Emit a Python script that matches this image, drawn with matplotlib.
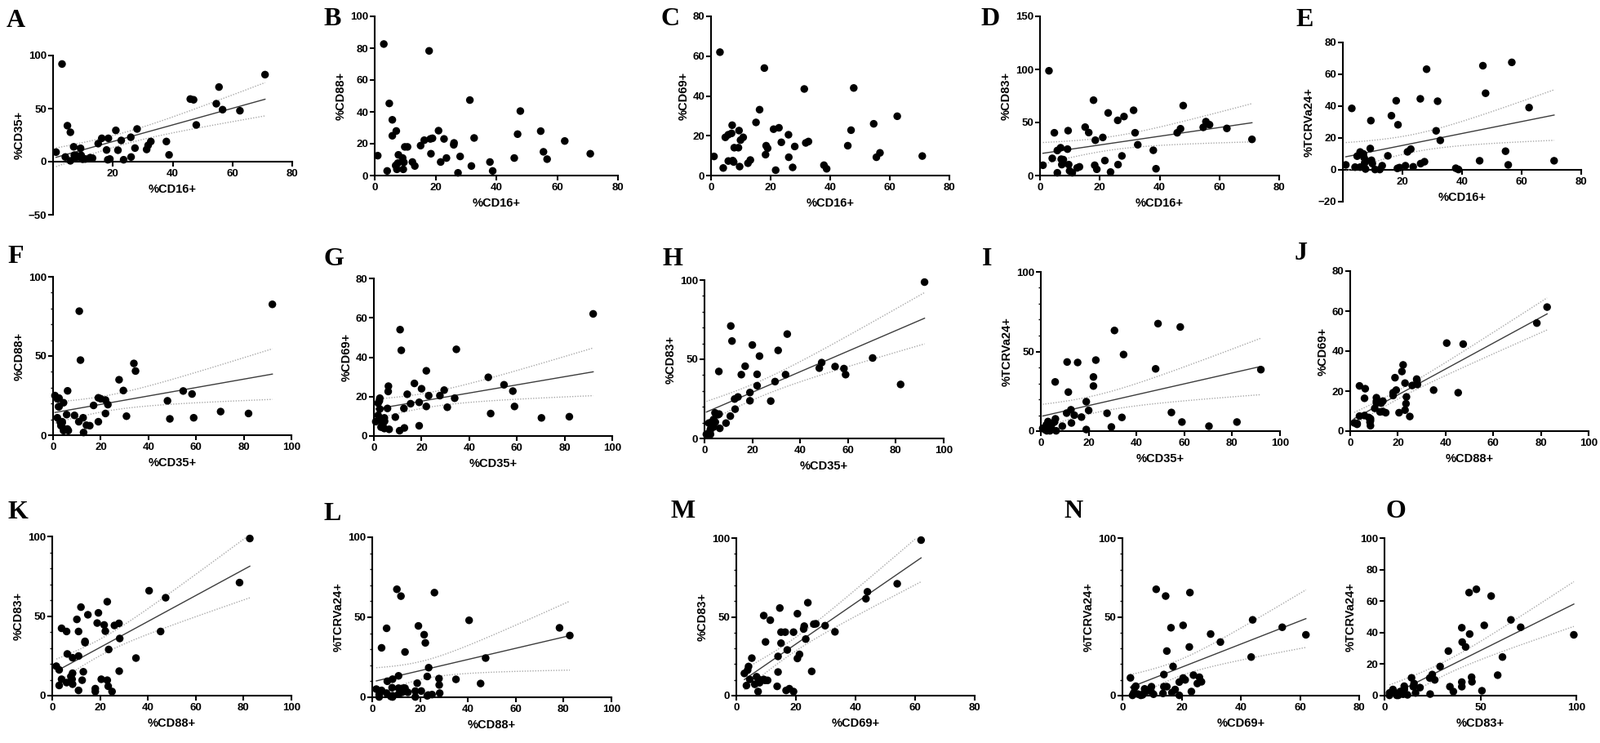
"""Correlation scatter panels (A-O) between surface marker percentages."""
import matplotlib
matplotlib.use("Agg")
import matplotlib.pyplot as plt
from matplotlib.ticker import MultipleLocator, FixedLocator
import numpy as np

# one value per sample (45 samples)
cd16 = [1.0, 3.0, 4.1, 4.8, 5.8, 5.8, 6.9, 7.1, 7.3, 7.6, 7.8, 9.2, 9.4, 9.6, 9.9, 10.8, 12.4, 13.2,
        15.1, 16.3, 17.9, 18.3, 18.5, 19.0, 21.0, 21.7, 22.8, 23.6, 26.0, 26.1, 27.4, 28.1, 31.3,
        31.8, 32.7, 37.9, 38.8, 45.9, 47.0, 47.9, 54.6, 55.5, 56.7, 62.5, 70.9]
cd35 = [9, 92, 4.4, 33.9, 27.7, 0.8, 14, 6.1, 4.5, 3.8, 5.7, 12.6, 6, 3, 2.3, 2.5, 3.8, 3.3,
        17, 22, 11, 1.8, 22, 2.5, 29.5, 10.8, 20, 1.8, 23, 4.4, 12.8, 30.8, 11.5,
        15.4, 19, 19, 6.4, 59, 58.3, 34.6, 54.6, 70.3, 49, 48, 82]
cd88 = [12.5, 82.6, 2.9, 45.3, 35, 25, 6.3, 28, 3.9, 7.8, 13, 11, 3.9, 8.3, 18, 18, 8.5, 6,
        18.8, 22.2, 78.3, 23, 13.7, 23.4, 28.2, 8.5, 23, 11, 19.3, 20.5, 1.7, 12, 47.4,
        6, 23.6, 8.5, 2.9, 11, 26, 40.5, 27.9, 14.9, 10.3, 21.7, 13.7]
cd69 = [9.6, 62, 3.8, 19.2, 20.5, 7.3, 21.2, 25.3, 7.5, 6.8, 14, 14, 22.6, 4.5, 17.8, 19.2, 6.2, 7.8,
        26.7, 33.1, 54, 10.5, 15, 13.7, 23.3, 2.7, 24, 16.7, 20.5, 9.2, 4.1, 14.6, 43.5,
        16.4, 17.1, 5.2, 3.4, 15, 22.8, 44, 26, 9.2, 11.4, 29.8, 9.8]
cd83 = [9.7, 98.7, 16.2, 40.3, 23.6, 2.6, 26.2, 15.4, 10.3, 12, 15, 24.9, 42.3, 10.3, 4.4, 2.6, 7.2, 8.2,
        45.6, 40.5, 71, 9.7, 33.3, 5.9, 35.9, 14.1, 59, 3.3, 52, 10.3, 18.5, 55.6, 61.5,
        40.3, 29, 23.8, 6.4, 40.3, 44.1, 65.9, 45.4, 50.8, 47.9, 44.4, 34.1]
tcr = [3.1, 38.6, 1.7, 8.6, 11.2, 1.7, 10, 7.7, 4.3, 0.5, 5.7, 13.4, 30.9, 6, 3.9, 0.2, 0.2, 2.6,
       8.8, 34, 43.4, 0.9, 28.3, 1.4, 2.6, 11.3, 13, 1.9, 44.6, 3.9, 5.1, 63.2, 24.5,
       43.1, 18.5, 1, 0.2, 5.7, 65.4, 48.1, 11.7, 3.1, 67.5, 39.1, 5.7]

data = {"%CD16+": cd16, "%CD35+": cd35, "%CD88+": cd88,
        "%CD69+": cd69, "%CD83+": cd83, "%TCRVa24+": tcr}

# letter, x var, y var, x max, x step, y min, y max, y step, y minor, fit, box (l, r, t, b) px, letter pos px
panels = [
    ("A", "%CD16+", "%CD35+", 80, 20, -50, 100, 50, None, True, (65, 358, 68, 263), (8, 33)),
    ("B", "%CD16+", "%CD88+", 80, 20, 0, 100, 20, None, False, (459, 757, 20, 215), (396, 31)),
    ("C", "%CD16+", "%CD69+", 80, 20, 0, 80, 20, None, False, (871, 1163, 20, 215), (809, 31)),
    ("D", "%CD16+", "%CD83+", 80, 20, 0, 150, 50, None, True, (1274, 1567, 20, 215), (1201, 31)),
    ("E", "%CD16+", "%TCRVa24+", 80, 20, -20, 80, 20, None, True, (1645, 1937, 52, 247), (1587, 32)),
    ("F", "%CD35+", "%CD88+", 100, 20, 0, 100, 50, 10, True, (65, 357, 339, 533), (9, 322)),
    ("G", "%CD35+", "%CD69+", 100, 20, 0, 80, 20, None, True, (458, 750, 341, 534), (396, 325)),
    ("H", "%CD35+", "%CD83+", 100, 20, 0, 100, 50, 10, True, (863, 1156, 343, 537), (811, 325)),
    ("I", "%CD35+", "%TCRVa24+", 100, 20, 0, 100, 50, 10, True, (1275, 1568, 333, 528), (1203, 325)),
    ("J", "%CD88+", "%CD69+", 100, 20, 0, 80, 20, None, True, (1654, 1946, 332, 528), (1586, 318)),
    ("K", "%CD88+", "%CD83+", 100, 20, 0, 100, 50, 10, True, (64, 357, 657, 852), (9, 635)),
    ("L", "%CD88+", "%TCRVa24+", 100, 20, 0, 100, 50, 10, True, (456, 749, 658, 854), (396, 637)),
    ("M", "%CD69+", "%CD83+", 80, 20, 0, 100, 50, 10, True, (902, 1194, 659, 852), (821, 634)),
    ("N", "%CD69+", "%TCRVa24+", 80, 20, 0, 100, 50, 10, True, (1375, 1665, 659, 852), (1303, 634)),
    ("O", "%CD83+", "%TCRVa24+", 100, 50, 0, 100, 20, None, True, (1696, 1931, 659, 852), (1697, 634)),
]

W, H = 1960, 910
T975 = 2.017  # two-sided 95% t quantile, df = 43

plt.rcParams["font.family"] = ["Liberation Sans", "DejaVu Sans"]
plt.rcParams["font.weight"] = "bold"
fig = plt.figure(figsize=(W / 100, H / 100), dpi=100)

for letter, xv, yv, xmax, xstep, ymin, ymax, ystep, yminor, fit, box, lpos in panels:
    l, r, t, b = box
    ax = fig.add_axes([l / W, 1 - b / H, (r - l) / W, (b - t) / H])
    x = np.array(data[xv], dtype=float)
    y = np.array(data[yv], dtype=float)

    if fit:
        slope, icpt = np.polyfit(x, y, 1)
        xs = np.linspace(x.min(), x.max(), 100)
        n = len(x)
        resid = y - (slope * x + icpt)
        s = np.sqrt((resid ** 2).sum() / (n - 2))
        se = s * np.sqrt(1 / n + (xs - x.mean()) ** 2 / ((x - x.mean()) ** 2).sum())
        yfit = slope * xs + icpt
        ax.plot(xs, yfit, color="#3c3c3c", lw=1.0, zorder=3)
        for sgn in (-1, 1):
            ax.plot(xs, yfit + sgn * T975 * se, color="#a8a8a8", lw=1.0,
                    ls=(0, (1, 1.3)), zorder=3)

    ax.scatter(x, y, s=46, color="black", edgecolors="none", zorder=4, clip_on=False)

    ax.set_xlim(0, xmax)
    ax.set_ylim(ymin, ymax)
    ax.spines[["top", "right"]].set_visible(False)
    for sp in ("left", "bottom"):
        ax.spines[sp].set_linewidth(1.5)
    if ymin < 0:
        ax.spines["bottom"].set_position(("data", 0))
        ax.xaxis.set_major_locator(FixedLocator(np.arange(xstep, xmax + 1, xstep)))
    else:
        ax.xaxis.set_major_locator(MultipleLocator(xstep))
    ax.yaxis.set_major_locator(MultipleLocator(ystep))
    if yminor:
        ax.yaxis.set_minor_locator(MultipleLocator(yminor))
    ax.tick_params(which="major", length=4, width=1.5, labelsize=9.5, pad=1.5)
    ax.tick_params(which="minor", length=2.5, width=1.0)
    ax.tick_params(axis="x", which="major", pad=2.5)
    for lab in ax.get_xticklabels() + ax.get_yticklabels():
        lab.set_fontweight("bold")
    ax.set_xlabel(xv, fontsize=10.5, fontweight="bold", labelpad=4)
    ax.set_ylabel(yv, fontsize=10.5, fontweight="bold", labelpad=3)

    fig.text(lpos[0] / W, 1 - lpos[1] / H, letter, fontsize=23, fontweight="bold",
             family=["Liberation Serif", "DejaVu Serif"], ha="left", va="baseline")

fig.savefig("out.png", dpi=100, facecolor="white")
